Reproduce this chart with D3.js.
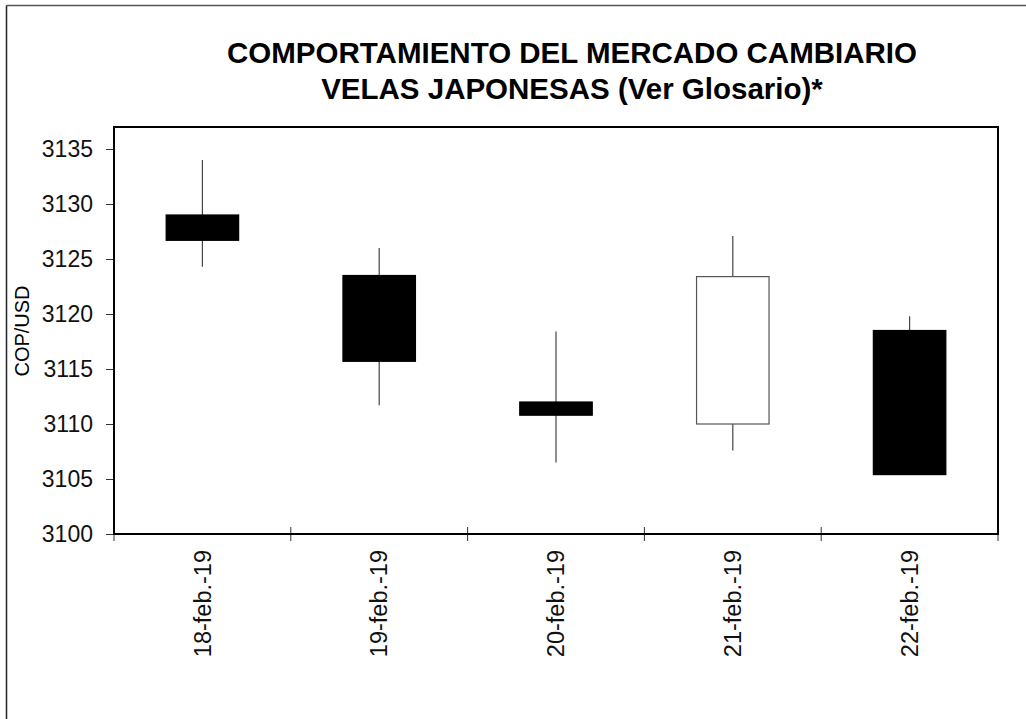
<!DOCTYPE html>
<html>
<head>
<meta charset="utf-8">
<script src="https://cdn.jsdelivr.net/npm/d3@7"></script>
<style>
  body { margin: 0; background: #fff; }
  svg { display: block; font-family: "Liberation Sans", Arial, sans-serif; }
</style>
</head>
<body>
<svg id="drawing_region"></svg>
<script>
// daily candles, COP per USD
const dates = ['18-feb.-19', '19-feb.-19', '20-feb.-19', '21-feb.-19', '22-feb.-19'];
const open_vals  = [3129.0, 3123.5, 3112.0, 3110.0, 3118.5];
const high_vals  = [3134.0, 3126.0, 3118.4, 3127.1, 3119.8];
const low_vals   = [3124.3, 3111.7, 3106.5, 3107.6, 3105.4];
const close_vals = [3126.7, 3115.7, 3110.8, 3123.4, 3105.4];
const y_ticks = [3100, 3105, 3110, 3115, 3120, 3125, 3130, 3135];
const y_domain = [3100, 3137];

const title_lines = ['COMPORTAMIENTO DEL MERCADO CAMBIARIO', 'VELAS JAPONESAS (Ver Glosario)*'];
const y_label = 'COP/USD';

const data = dates.map((d, i) => ({
    date: d, open: open_vals[i], high: high_vals[i], low: low_vals[i], close: close_vals[i]
}));

class CandleChart {

    constructor( config, data ) {
        this.config = config;
        this.data = data;
        this.init();
    }

    init() {
        let self = this;
        const c = self.config;

        self.svg = d3.select( c.parent )
            .attr('width', c.width)
            .attr('height', c.height);

        // outer frame (only top and left edges show in the picture)
        self.svg.append('line')
            .attr('x1', 6.5).attr('x2', c.width).attr('y1', 5.5).attr('y2', 5.5)
            .attr('stroke', '#555').attr('stroke-width', 1.5);
        self.svg.append('line')
            .attr('x1', 6.5).attr('x2', 6.5).attr('y1', 5.5).attr('y2', c.height)
            .attr('stroke', '#222').attr('stroke-width', 1.5);

        self.chart = self.svg.append('g')
            .attr('transform', `translate(${c.margin.left}, ${c.margin.top})`);

        self.inner_width = c.width - c.margin.left - c.margin.right;
        self.inner_height = c.height - c.margin.top - c.margin.bottom;

        self.xscale = d3.scaleBand()
            .domain( self.data.map(d => d.date) )
            .range( [0, self.inner_width] );

        self.yscale = d3.scaleLinear()
            .domain( y_domain )
            .range( [self.inner_height, 0] );

        // title
        self.svg.append('g').selectAll('text')
            .data(title_lines)
            .join('text')
            .attr('x', 572)
            .attr('y', (d, i) => 63 + i * 36)
            .attr('text-anchor', 'middle')
            .attr('font-size', '29.5px')
            .attr('font-weight', 'bold')
            .text(d => d);

        self.svg.append('text')
            .attr('transform', `translate(29, 331) rotate(-90)`)
            .attr('text-anchor', 'middle')
            .attr('font-size', '20px')
            .text(y_label);
    }

    render() {
        let self = this;

        const yaxis = d3.axisLeft( self.yscale )
            .tickValues( y_ticks )
            .tickFormat( d3.format('d') )
            .tickSize(8)
            .tickPadding(13);

        const yaxis_group = self.chart.append('g').call( yaxis );
        yaxis_group.select('.domain').remove();
        yaxis_group.selectAll('.tick line').attr('stroke', '#333');
        yaxis_group.selectAll('.tick text')
            .attr('font-family', '"Liberation Sans", Arial, sans-serif')
            .attr('font-size', '23px')
            .attr('fill', '#111');

        // category boundary ticks crossing the bottom axis
        const bounds = self.xscale.domain().map(d => self.xscale(d)).concat([self.inner_width]);
        self.chart.append('g').selectAll('line')
            .data(bounds)
            .join('line')
            .attr('x1', d => d).attr('x2', d => d)
            .attr('y1', self.inner_height - 7).attr('y2', self.inner_height + 7)
            .attr('stroke', '#333').attr('stroke-width', 1);

        // category labels, rotated
        self.chart.append('g').selectAll('text')
            .data(self.data)
            .join('text')
            .attr('transform', d => `translate(${self.xscale(d.date) + self.xscale.bandwidth() / 2}, ${self.inner_height + 16}) rotate(-90)`)
            .attr('text-anchor', 'end')
            .attr('dy', '0.35em')
            .attr('font-size', '23.5px')
            .attr('fill', '#111')
            .text(d => d.date);

        const bw = self.xscale.bandwidth() * 0.41;
        const cx = d => self.xscale(d.date) + self.xscale.bandwidth() / 2;

        // wicks
        self.chart.append('g').selectAll('line')
            .data(self.data)
            .join('line')
            .attr('x1', cx).attr('x2', cx)
            .attr('y1', d => self.yscale(d.high))
            .attr('y2', d => self.yscale(d.low))
            .attr('stroke', '#444').attr('stroke-width', 1.2);

        // bodies: black when price fell, white when it rose
        self.chart.append('g').selectAll('rect')
            .data(self.data)
            .join('rect')
            .attr('x', d => cx(d) - bw / 2)
            .attr('width', bw)
            .attr('y', d => self.yscale(Math.max(d.open, d.close)))
            .attr('height', d => Math.abs(self.yscale(d.open) - self.yscale(d.close)))
            .attr('fill', d => d.close < d.open ? '#000' : '#fff')
            .attr('stroke', d => d.close < d.open ? '#000' : '#555')
            .attr('stroke-width', 1.2);

        // plot frame
        self.chart.append('rect')
            .attr('width', self.inner_width)
            .attr('height', self.inner_height)
            .attr('fill', 'none')
            .attr('stroke', '#000')
            .attr('stroke-width', 2);
    }
}

const config = {
    parent: '#drawing_region',
    width: 1026,
    height: 719,
    margin: {top: 127, right: 28, bottom: 185, left: 114}
};

const candle_chart = new CandleChart( config, data );
candle_chart.render();
</script>
</body>
</html>
